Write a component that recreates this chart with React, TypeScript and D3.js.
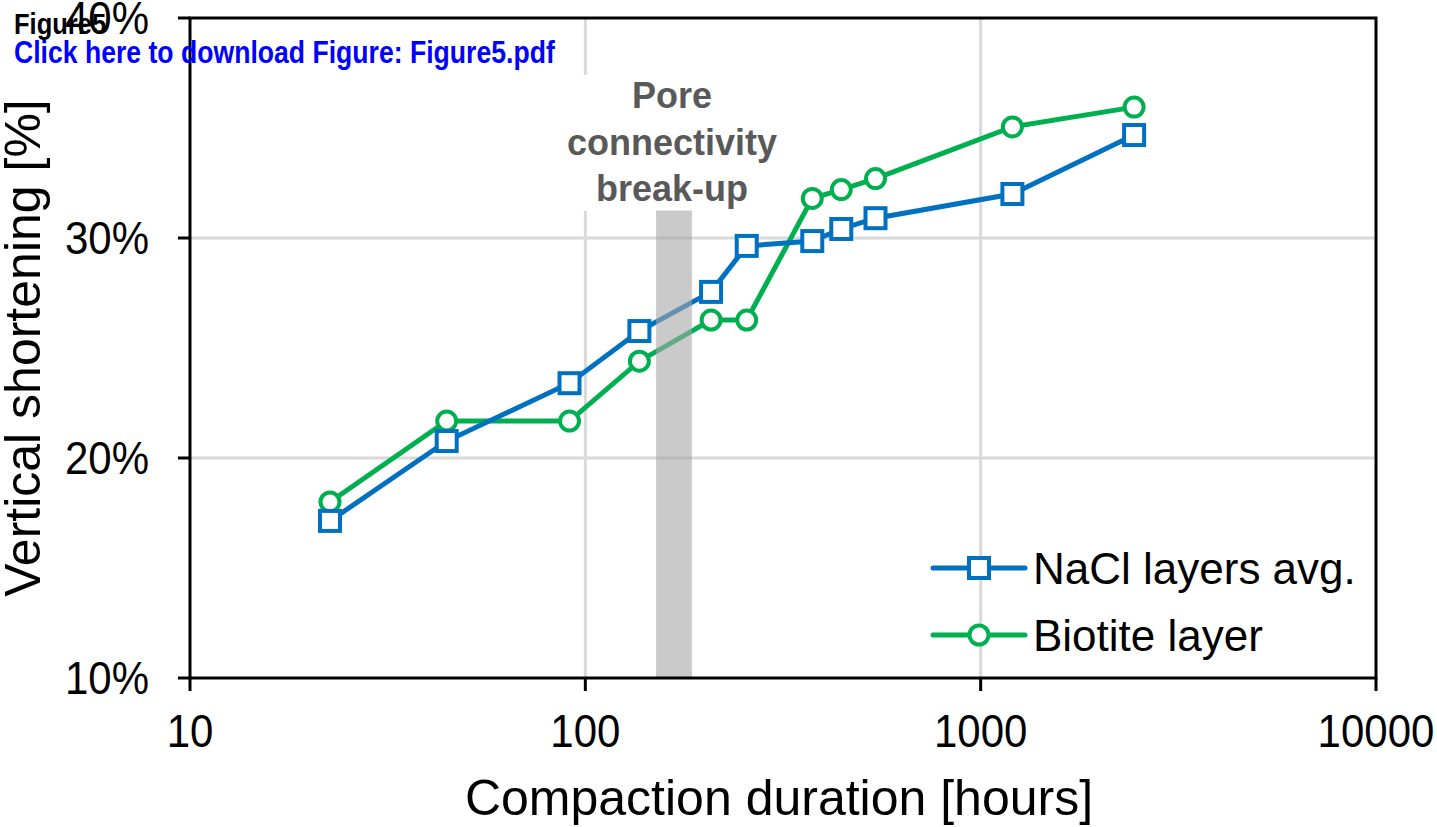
import * as d3 from 'd3'

// compaction duration [hours] and vertical shortening [%]
const hours = [22.6, 44.6, 91.2, 137, 208, 256, 375, 444, 542, 1203, 2444]
const naclAvg = [17.14, 20.77, 23.4, 25.77, 27.55, 29.64, 29.86, 30.41, 30.9, 32.0, 34.68]
const biotite = [18.0, 21.68, 21.68, 24.4, 26.27, 26.27, 31.8, 32.2, 32.7, 35.05, 35.95]

const xTicks = [10, 100, 1000, 10000]
const yTicks = [10, 20, 30, 40]
const xGrid = [100, 1000]
const yGrid = [20, 30]

// pore connectivity break-up window [hours], top of band [%]
const band = [151, 186]
const bandTop = 31.25

const legendLabels = ['NaCl layers avg.', 'Biotite layer']

const width = 1437
const height = 827
const margin = {left: 190, right: 61, top: 18, bottom: 149}
const font = '"Liberation Sans", Arial, sans-serif'
const blue = '#0070C0'
const green = '#00B050'

const App = () => {
  const x = d3.scaleLog()
    .domain([10, 10000])
    .range([margin.left, width - margin.right])
  const y = d3.scaleLinear()
    .domain([10, 40])
    .range([height - margin.bottom, margin.top])

  const line = d3.line<number>()
    .x((d, i) => x(hours[i]))
    .y((d) => y(d))

  const x0 = x.range()[0], x1 = x.range()[1]
  const y0 = y.range()[0], y1 = y.range()[1]
  const bandMid = Math.sqrt(band[0] * band[1])
  const cx = x(bandMid)

  return (
    <svg width={width} height={height} style={{position: 'absolute', left: 0, top: 0}}
         fontFamily={font}>
      <rect width={width} height={height} fill="white"/>

      {/* grid */}
      {xGrid.map((t) => (
        <line key={'gx' + t} x1={x(t)} x2={x(t)} y1={y0} y2={y1} stroke="#d9d9d9" strokeWidth={3}/>
      ))}
      {yGrid.map((t) => (
        <line key={'gy' + t} x1={x0} x2={x1} y1={y(t)} y2={y(t)} stroke="#d9d9d9" strokeWidth={3}/>
      ))}

      {/* annotation, white box hides grid */}
      <rect x={cx - 113} y={75} width={226} height={136} fill="white"/>
      <g fill="#595959" fontWeight="bold" fontSize={36} textAnchor="middle">
        <text x={cx - 2} y={108}>Pore</text>
        <text x={cx - 2} y={155}>connectivity</text>
        <text x={cx - 2} y={201}>break-up</text>
      </g>

      {/* series */}
      <path d={line(biotite) ?? ''} fill="none" stroke={green} strokeWidth={5}/>
      <path d={line(naclAvg) ?? ''} fill="none" stroke={blue} strokeWidth={5}/>
      {biotite.map((v, i) => (
        <circle key={'b' + i} cx={x(hours[i])} cy={y(v)} r={9.5} fill="white" stroke={green} strokeWidth={4}/>
      ))}
      {naclAvg.map((v, i) => (
        <rect key={'n' + i} x={x(hours[i]) - 10} y={y(v) - 10} width={20} height={20}
              fill="white" stroke={blue} strokeWidth={4}/>
      ))}

      {/* band */}
      <rect x={x(band[0])} y={y(bandTop)} width={x(band[1]) - x(band[0])} height={y0 - y(bandTop)}
            fill="#a6a6a6" fillOpacity={0.6}/>

      {/* frame */}
      <rect x={x0} y={y1} width={x1 - x0} height={y0 - y1} fill="none" stroke="black" strokeWidth={3}/>
      {xTicks.map((t) => (
        <g key={'tx' + t}>
          <line x1={x(t)} x2={x(t)} y1={y0} y2={y0 + 13} stroke="black" strokeWidth={3}/>
          <text x={x(t)} y={747} fontSize={42} textAnchor="middle"
                transform={`translate(0,747) scale(1,1.08) translate(0,-747)`}>{t}</text>
        </g>
      ))}
      {yTicks.map((t) => (
        <g key={'ty' + t}>
          <line x1={x0 - 12} x2={x0} y1={y(t)} y2={y(t)} stroke="black" strokeWidth={3}/>
          <text x={149} y={y(t) + 16} fontSize={42} textAnchor="end"
                transform={`translate(0,${y(t) + 16}) scale(1,1.08) translate(0,${-(y(t) + 16)})`}>{t + '%'}</text>
        </g>
      ))}

      {/* axis titles */}
      <text x={(x0 + x1) / 2 - 4} y={815} fontSize={50} textAnchor="middle">Compaction duration [hours]</text>
      <text transform={`translate(40,${(y0 + y1) / 2}) rotate(-90)`} fontSize={50} textAnchor="middle">
        Vertical shortening [%]
      </text>

      {/* legend */}
      {legendLabels.map((label, i) => {
        const ly = 568 + i * 67
        const c = i === 0 ? blue : green
        return (
          <g key={label}>
            <line x1={933} x2={1025} y1={ly} y2={ly} stroke={c} strokeWidth={5} strokeLinecap="round"/>
            {i === 0
              ? <rect x={969} y={ly - 10} width={20} height={20} fill="white" stroke={c} strokeWidth={4}/>
              : <circle cx={979} cy={ly} r={9.5} fill="white" stroke={c} strokeWidth={4}/>}
            <text x={1033} y={ly + 16} fontSize={44}>{label}</text>
          </g>
        )
      })}

      {/* header overlay */}
      <text x={14} y={34} fontSize={25.5} fontWeight="bold" fill="black"
            transform="translate(0,34) scale(1,1.15) translate(0,-34)">Figure5</text>
      <text x={14} y={63} fontSize={26.6} fontWeight="bold" fill="#0000ff"
            transform="translate(0,63) scale(1,1.15) translate(0,-63)">Click here to download Figure: Figure5.pdf</text>
    </svg>
  )
}

export default App
